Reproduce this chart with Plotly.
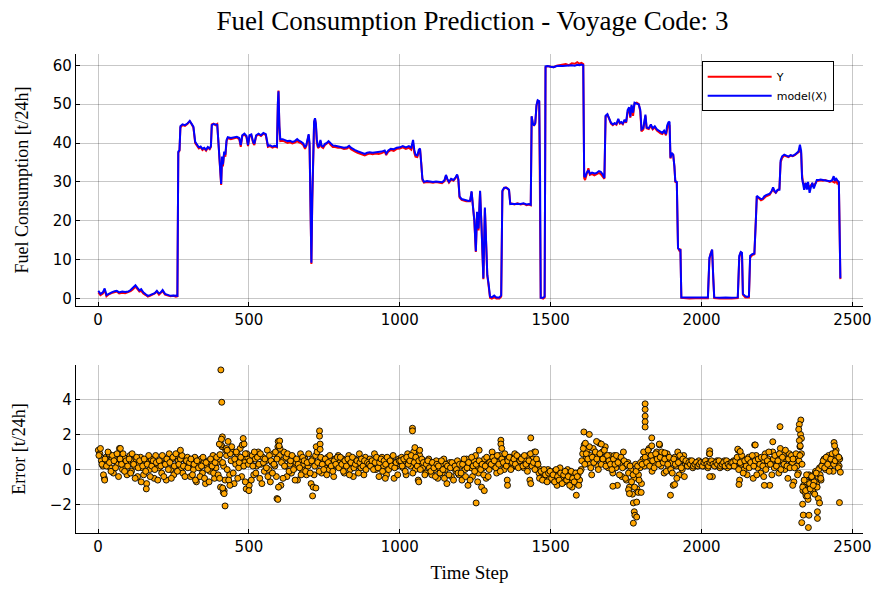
import plotly.graph_objects as go
from plotly.subplots import make_subplots

# ---- fuel consumption trace: (time step, measured Y, model(X)) ----
fc_steps = [1, 8, 16, 22, 28, 36, 45, 55, 62, 70, 80, 90, 100, 108, 116, 124, 130, 137, 143, 150,
            158, 165, 172, 180, 188, 195, 202, 208, 214, 222, 230, 240, 250, 258, 263, 266, 270, 273, 280, 288,
            296, 304, 310, 316, 322, 328, 334, 340, 346, 352, 358, 364, 370, 374, 377, 383, 389, 395, 399, 402,
            405, 408, 411, 414, 418, 422, 426, 430, 440, 450, 460, 468, 473, 478, 485, 492, 497, 502, 508, 514,
            518, 524, 532, 540, 548, 556, 563, 570, 578, 586, 593, 596, 598, 601, 604, 612, 620, 628, 636, 644,
            652, 660, 666, 672, 680, 686, 690, 695, 698, 701, 704, 707, 710, 713, 716, 719, 722, 725, 729, 733,
            737, 741, 746, 752, 758, 764, 770, 778, 786, 795, 805, 815, 825, 832, 838, 845, 852, 860, 868, 876,
            884, 892, 900, 910, 920, 930, 940, 950, 955, 962, 970, 980, 990, 1000, 1010, 1020, 1030, 1038, 1044, 1048,
            1052, 1058, 1063, 1067, 1071, 1075, 1080, 1090, 1100, 1110, 1120, 1130, 1140, 1148, 1153, 1158, 1163, 1170, 1178, 1185,
            1190, 1194, 1198, 1205, 1212, 1220, 1228, 1233, 1238, 1242, 1247, 1252, 1256, 1261, 1266, 1271, 1277, 1282, 1287, 1290,
            1294, 1299, 1305, 1313, 1320, 1330, 1336, 1340, 1346, 1352, 1358, 1362, 1366, 1372, 1380, 1390, 1400, 1410, 1420, 1428,
            1434, 1437, 1441, 1445, 1449, 1453, 1457, 1462, 1465, 1467, 1475, 1480, 1483, 1490, 1500, 1510, 1520, 1530, 1540, 1550,
            1560, 1570, 1580, 1588, 1595, 1602, 1608, 1611, 1614, 1619, 1625, 1630, 1637, 1645, 1652, 1660, 1666, 1672, 1678, 1682,
            1688, 1694, 1700, 1706, 1712, 1718, 1724, 1729, 1734, 1739, 1745, 1750, 1755, 1760, 1764, 1768, 1773, 1778, 1785, 1792,
            1797, 1801, 1807, 1814, 1818, 1825, 1832, 1838, 1845, 1852, 1858, 1864, 1870, 1876, 1882, 1886, 1890, 1894, 1897, 1901,
            1906, 1910, 1913, 1918, 1922, 1926, 1930, 1933, 1945, 1960, 1980, 2000, 2010, 2021, 2026, 2030, 2035, 2039, 2042, 2060,
            2080, 2100, 2120, 2125, 2130, 2134, 2137, 2145, 2152, 2157, 2161, 2168, 2175, 2180, 2183, 2190, 2197, 2203, 2208, 2214,
            2220, 2226, 2232, 2237, 2241, 2246, 2252, 2258, 2262, 2267, 2274, 2281, 2288, 2295, 2302, 2309, 2316, 2321, 2326, 2330,
            2333, 2336, 2340, 2345, 2349, 2353, 2358, 2362, 2367, 2372, 2377, 2382, 2388, 2395, 2402, 2410, 2418, 2425, 2432, 2438,
            2441, 2445, 2450, 2455, 2460]

y_true = [1.6, 0.9, 1.3, 2.2, 0.6, 1.1, 1.4, 1.7, 1.8, 1.3, 1.5, 1.4, 1.6, 1.9, 2.4, 3.1, 2.5, 1.8, 2.0, 1.3,
          0.9, 0.5, 0.7, 0.9, 1.3, 1.8, 1.0, 1.5, 1.9, 1.0, 0.8, 0.6, 0.7, 0.5, 0.6, 37.5, 38.0, 44.0, 44.6, 44.4,
          44.9, 45.6, 44.9, 44.0, 40.0, 39.2, 38.6, 38.9, 38.2, 38.6, 38.0, 38.8, 38.4, 39.0, 44.8, 45.0, 44.6, 44.9, 40.0, 35.0,
          30.0, 29.2, 36.0, 34.0, 37.5, 36.5, 40.5, 41.3, 41.0, 41.2, 41.4, 41.0, 39.0, 41.8, 42.2, 41.5, 39.2, 41.7, 42.0, 40.0,
          39.5, 41.8, 42.2, 41.8, 42.4, 42.0, 39.0, 39.2, 38.8, 39.1, 38.9, 50.0, 53.5, 44.0, 40.5, 40.6, 40.3, 40.0, 40.2, 39.9,
          40.1, 40.5, 40.2, 40.0, 39.5, 38.5, 39.2, 41.5, 42.0, 39.0, 20.0, 8.9, 25.0, 40.5, 45.0, 46.2, 44.5, 40.0, 38.7, 39.0,
          40.5, 39.0, 38.7, 39.5, 39.8, 40.2, 39.6, 39.0, 39.0, 38.8, 38.8, 38.5, 38.6, 39.0, 38.4, 38.0, 37.8, 37.5, 37.2, 36.9,
          36.8, 37.1, 37.3, 37.1, 37.3, 37.2, 37.4, 37.8, 36.9, 37.8, 38.2, 38.0, 38.5, 38.6, 38.9, 38.5, 38.8, 38.3, 40.0, 37.5,
          36.5, 36.4, 38.0, 38.5, 35.0, 30.5, 29.8, 30.0, 29.9, 29.8, 30.0, 29.8, 29.7, 30.2, 31.6, 30.5, 29.8, 30.6, 30.3, 31.0,
          31.7, 30.5, 26.0, 25.4, 25.2, 25.0, 25.0, 25.0, 27.4, 24.0, 20.0, 12.0, 22.0, 17.5, 27.5, 18.0, 5.0, 23.0, 10.0, 6.0,
          3.5, 0.2, 0.0, 0.3, 0.0, 0.0, 0.5, 27.5, 28.4, 28.6, 28.2, 27.8, 24.5, 24.4, 24.2, 24.5, 24.2, 24.4, 24.0, 24.2,
          24.0, 46.8, 45.0, 44.6, 45.0, 49.5, 50.8, 50.6, 30.0, 0.2, 0.0, 0.3, 59.5, 59.8, 59.6, 59.5, 59.9, 60.0, 60.1, 60.3,
          60.0, 60.5, 60.4, 60.8, 60.4, 60.6, 60.3, 31.0, 30.5, 32.0, 33.5, 31.8, 32.0, 31.7, 32.0, 32.3, 32.0, 31.5, 30.8, 46.8,
          47.3, 46.2, 45.0, 44.6, 45.0, 44.7, 46.0, 45.0, 45.2, 44.8, 45.8, 45.2, 47.8, 49.0, 46.5, 49.5, 47.0, 50.2, 50.4, 50.0,
          48.0, 43.0, 43.5, 47.0, 43.8, 43.6, 44.4, 43.5, 44.0, 43.2, 42.8, 42.5, 42.3, 43.0, 42.0, 44.0, 45.0, 44.5, 36.0, 37.2,
          37.0, 34.0, 30.0, 29.8, 13.0, 12.4, 12.8, 0.2, 0.1, 0.0, 0.1, 0.0, 0.1, 0.1, 10.0, 11.6, 12.5, 5.0, 0.1, 0.0,
          0.1, 0.0, 0.1, 10.5, 12.0, 11.5, 1.0, 0.3, 0.2, 0.3, 10.5, 11.2, 11.4, 20.0, 26.0, 25.8, 25.3, 25.5, 26.0, 26.3,
          26.5, 26.7, 27.5, 28.3, 27.5, 27.2, 27.8, 28.2, 35.0, 36.2, 36.8, 36.5, 36.4, 36.8, 36.6, 36.9, 37.2, 37.6, 38.0, 37.5,
          32.0, 29.8, 29.5, 29.0, 29.6, 29.0, 28.8, 29.2, 29.5, 29.0, 29.8, 30.2, 30.3, 30.4, 30.3, 30.5, 30.2, 30.0, 30.2, 30.0,
          29.8, 30.5, 29.6, 30.0, 5.0]

y_model = [2.0, 1.2, 1.6, 2.6, 0.9, 1.3, 1.6, 1.9, 2.0, 1.6, 1.8, 1.7, 1.8, 2.2, 2.8, 3.4, 2.8, 2.1, 2.4, 1.6,
           1.1, 0.7, 0.9, 1.1, 1.4, 2.0, 1.3, 1.6, 2.2, 1.2, 1.0, 0.7, 0.8, 0.7, 0.7, 37.8, 38.2, 44.3, 44.8, 44.6,
           45.0, 45.7, 45.0, 44.2, 40.3, 39.5, 38.9, 39.1, 38.5, 38.8, 38.3, 39.0, 38.6, 39.2, 44.6, 44.9, 44.7, 44.7, 40.2, 35.5,
           31.0, 29.5, 36.5, 34.5, 37.8, 37.0, 40.8, 41.5, 41.3, 41.5, 41.6, 41.3, 39.5, 42.0, 42.4, 41.8, 39.5, 42.0, 42.2, 40.3,
           39.8, 42.0, 42.4, 42.0, 42.6, 42.3, 39.3, 39.4, 39.1, 39.3, 39.1, 50.5, 53.3, 44.5, 41.0, 41.0, 40.7, 40.5, 40.6, 40.3,
           40.5, 41.0, 40.6, 40.4, 39.9, 38.9, 39.4, 41.9, 42.3, 40.0, 20.0, 9.2, 26.0, 41.0, 45.5, 46.4, 45.0, 41.0, 39.0, 39.3,
           40.8, 39.3, 39.1, 39.8, 40.0, 40.5, 40.0, 39.4, 39.3, 39.1, 39.0, 38.8, 38.9, 39.3, 38.8, 38.4, 38.2, 37.9, 37.6, 37.3,
           37.2, 37.5, 37.6, 37.5, 37.6, 37.6, 37.8, 38.1, 37.3, 38.1, 38.5, 38.4, 38.8, 38.9, 39.2, 38.9, 39.2, 38.8, 40.8, 38.3,
           37.0, 36.8, 38.3, 38.6, 35.2, 30.8, 30.0, 30.2, 30.1, 30.0, 30.1, 30.0, 29.9, 30.4, 31.8, 30.7, 30.0, 30.8, 30.5, 31.2,
           31.9, 30.8, 26.3, 25.6, 25.4, 25.2, 25.1, 25.2, 27.6, 24.0, 20.2, 12.2, 22.3, 18.0, 27.7, 18.3, 5.2, 23.4, 9.0, 6.0,
           4.0, 0.5, 0.3, 0.8, 0.3, 0.3, 0.8, 27.8, 28.5, 28.5, 28.3, 28.0, 24.3, 24.4, 24.3, 24.4, 24.3, 24.5, 24.2, 24.3,
           24.1, 46.9, 45.0, 44.5, 45.2, 49.8, 51.0, 50.8, 30.0, 0.2, 0.2, 0.5, 59.7, 59.8, 59.6, 59.5, 59.8, 59.9, 59.8, 59.9,
           59.9, 60.0, 59.9, 60.1, 60.0, 60.2, 60.0, 31.5, 31.2, 32.3, 33.0, 32.1, 32.4, 32.2, 32.3, 32.8, 32.6, 32.0, 31.0, 47.0,
           47.4, 46.5, 45.2, 44.8, 45.1, 44.9, 46.2, 45.2, 45.4, 45.0, 46.0, 45.4, 48.5, 49.2, 46.8, 49.8, 47.8, 50.4, 50.2, 49.9,
           48.5, 43.5, 43.8, 47.3, 44.0, 43.8, 44.8, 43.8, 44.3, 43.5, 43.2, 42.8, 42.6, 43.2, 42.3, 44.5, 45.3, 45.5, 36.2, 37.5,
           37.0, 34.0, 30.2, 30.0, 13.0, 12.6, 12.5, 0.3, 0.3, 0.2, 0.3, 0.2, 0.3, 0.3, 10.5, 11.8, 12.6, 5.0, 0.3, 0.2,
           0.3, 0.2, 0.3, 11.0, 12.0, 11.8, 1.2, 0.6, 0.4, 0.6, 11.0, 11.4, 11.6, 20.0, 26.4, 26.0, 25.6, 25.7, 26.3, 26.6,
           26.8, 27.0, 27.6, 28.6, 27.8, 27.3, 28.0, 28.0, 35.5, 36.6, 37.0, 36.7, 36.5, 36.9, 36.7, 37.0, 37.5, 37.8, 39.6, 38.0,
           31.0, 29.0, 28.0, 29.8, 28.0, 30.0, 27.2, 28.5, 29.8, 28.3, 29.5, 30.5, 30.5, 30.6, 30.5, 30.4, 30.3, 30.2, 30.4, 31.5,
           30.2, 31.0, 30.4, 30.0, 5.2]

# ---- prediction error, read every 5th time step (two interleaved passes) ----
err_steps_a = list(range(1, 2461, 5))
err_vals_a = [
    1.1, 0.9, 0.5, 0.2, -0.5, 0.7, 0.3, 0.9, 0.1, 0.6, -0.2, 0.8, 0.4, 0.3, 1.2, 0.5, 0.0, 0.7, 0.2, -0.3,
    0.4, 0.8, -0.1, 0.5, 0.2, 0.6, -0.4, 0.3, 0.7, 0.1, -0.3, 0.5, -0.8, 0.4, 0.0, 0.6, 0.2, -0.5, 0.8, 0.3,
    0.1, 0.5, -0.2, 0.7, 0.3, -0.6, 0.4, 0.9, 0.0, 0.6, -0.3, 0.2, 0.8, 0.5, 1.0, 0.1, -0.2, 0.6, 0.3, 0.7,
    0.2, -0.4, 0.5, 0.0, 0.7, -0.7, 0.3, 0.1, 0.6, -0.2, 0.4, -0.8, 0.2, 0.5, -0.1, 0.3, 0.8, -0.5, 0.1, 0.4,
    0.6, -1.0, 1.3, 0.2, -0.6, 0.8, 1.6, -0.3, 0.5, 1.0, -0.8, 0.3, 0.9, 0.1, 1.2, -0.4, 0.6, 0.4, -1.1, 0.7,
    -0.9, 0.4, 0.8, -0.3, 0.6, 0.2, 1.0, -0.5, 0.3, 0.7, -0.1, 0.5, 1.1, 0.0, -0.7, 0.4, 0.9, 0.2, -0.4, 1.3,
    0.8, -0.9, 0.5, 1.0, 0.2, -0.4, 0.6, 0.3, -0.2, 0.7, 0.1, 0.4, -0.6, 0.5, 0.9, 0.0, 0.3, 0.6, -0.3, 0.2,
    0.4, -0.8, 0.6, -0.3, 0.8, 1.0, 0.3, 0.5, -0.2, 0.6, 0.2, 0.4, 0.7, 0.0, 0.5, 0.3, -0.4, 0.6, 0.2, 0.8,
    0.4, 0.1, 0.6, -0.2, 0.5, 0.3, 0.8, 0.0, 0.4, -0.4, 0.6, 0.2, 0.5, 0.9, 0.1, 0.3, -0.3, 0.7, 0.2, 0.5,
    0.6, 0.2, 0.4, 0.9, 0.0, 0.5, -0.4, 0.3, 0.7, 0.2, 0.5, -0.3, 0.4, 0.1, 0.6, 0.3, -0.5, 0.4, 0.2, 0.6,
    0.3, 0.7, 0.1, 0.5, -0.3, 0.9, 0.4, 0.2, 0.6, 1.0, 0.0, 0.4, -0.6, 0.8, 0.3, 0.1, 0.5, -0.2, 0.3, 0.6,
    0.2, -0.3, 0.4, 0.0, 0.5, -0.5, 0.1, 0.3, -0.2, 0.6, 0.0, -0.8, 0.2, 0.4, -0.4, 0.1, 0.3, -0.1, 0.5, -0.3,
    0.2, -0.6, 0.4, 0.0, 0.6, -0.9, 0.3, 0.1, -0.4, 0.5, 0.8, 0.2, -0.2, 0.4, -1.0, 0.1, 0.6, -0.5, 0.3, 0.0,
    0.5, 1.0, 0.2, 0.7, -0.2, 0.4, 0.8, 0.3, 0.6, 0.0, 0.5, -0.6, 0.3, 0.7, 0.1, 0.4, 0.9, 0.2, 0.5, 0.3,
    0.4, 0.7, 0.1, 0.5, 0.2, 0.8, -0.6, 0.3, 0.6, 1.0, 0.2, 0.4, -0.2, 0.0, -0.4, -0.2, -0.6, -0.3, 0.0, -0.5,
    -0.2, -0.6, -0.1, -0.4, -0.9, -0.3, 0.1, -0.5, -0.2, -0.7, -0.4, 0.0, -0.6, -0.3, -1.0, -0.2, -0.5, -0.8, -0.3, -0.6,
    0.0, 0.9, 1.4, 0.6, 1.1, 0.3, 0.8, -0.3, 1.2, 0.5, 0.9, 0.2, 1.5, 0.7, 1.0, 0.4, 1.3, 0.6, 0.1, 0.8,
    0.5, -0.2, 0.8, 0.1, -0.9, 0.6, 0.3, -0.4, 1.0, 0.2, -0.6, 0.4, -1.0, 0.0, -1.4, -0.5, 0.3, -1.1, -0.3, 0.1,
    -0.8, 0.6, 0.2, 0.9, 0.4, 1.2, 0.5, -0.1, 0.8, 0.3, 1.0, 0.6, 1.4, 0.2, 0.7, -0.2, 0.5, 0.9, 0.1, 0.6,
    0.4, -0.9, 0.7, 0.2, 1.0, -0.3, 0.5, 0.0, 0.8, 0.3, 0.4, 0.2, 0.5, 0.3, 0.1, 0.4, 0.3, 0.2, 0.5, 0.3,
    0.4, 0.2, 0.3, 0.5, 0.1, 0.9, 0.3, -0.4, 0.4, 0.2, 0.5, 0.3, 0.1, 0.4, 0.2, 0.5, 0.3, 0.1, 0.4, 0.2,
    0.3, 0.5, 0.2, 0.4, 1.1, -0.6, 0.3, 0.6, 0.0, 0.5, -0.3, 0.7, 0.2, 0.4, -0.5, 1.4, 0.8, 0.1, 0.6, -0.2,
    0.5, -0.4, 0.9, 0.2, 0.6, -0.9, 0.4, 1.0, 0.1, 0.7, 0.3, -0.2, 1.2, 0.5, 0.8, 0.0, 0.6, -0.5, 0.9, 0.3,
    0.4, -0.7, 0.7, 0.2, -0.2, 1.3, 0.9, -1.2, -0.6, -1.5, -0.9, -0.3, -1.0, -0.5, -1.3, -0.2, -0.8, -0.4, 0.1, -0.6,
    0.3, 0.6, 0.0, 0.4, 0.8, 0.2, 0.5, -0.1, 0.7, 1.1, 0.4, 0.2,
]

err_steps_b = list(range(3, 2461, 5))
err_vals_b = [
    0.8, 1.2, 0.3, -0.3, 0.6, 0.2, 1.0, 0.4, -0.1, 0.8, 0.5, 0.1, 0.9, -0.4, 0.6, 0.3, 0.9, -0.1, 0.5, 0.2,
    0.6, -0.2, 0.9, 0.3, -0.5, 0.7, 0.1, 0.5, -0.7, 0.2, 0.6, -0.1, 0.3, 0.8, -0.4, 0.2, 0.5, 0.0, 0.4, -0.6,
    0.5, 0.2, 0.8, -0.4, 0.3, 0.6, 0.0, 0.4, -0.5, 0.7, 0.2, 0.9, -0.1, 0.3, 0.6, 0.8, 0.2, -0.4, 0.5, 0.1,
    0.4, 0.6, -0.3, 0.3, -0.6, 0.5, 0.1, -0.4, 0.2, 0.7, -0.5, 0.4, 0.0, -0.7, 0.6, 0.2, -0.2, 0.4, 0.7, -0.3,
    -0.5, 1.4, 0.4, -1.2, 1.1, 0.0, -0.6, 0.9, 1.3, -0.2, 0.6, 1.0, -0.5, 0.4, 0.7, 1.4, 0.2, -0.7, 0.9, 0.3,
    0.5, -0.6, 0.2, 1.0, -0.2, 0.7, 0.3, 0.9, -0.8, 0.4, 0.6, 0.1, -0.4, 0.8, 0.5, -0.2, 0.3, 1.0, 0.6, -1.0,
    1.2, 0.4, -0.5, 0.2, 0.7, 0.9, -0.1, 0.5, 0.8, 0.0, -0.6, 0.6, 0.3, 0.1, -0.3, 0.7, 0.5, -0.1, 0.4, 0.9,
    -0.2, 0.5, -1.0, 0.2, 1.3, 0.4, -0.1, 0.7, 0.3, 0.0, 0.6, -0.3, 0.4, 0.8, 0.2, -0.1, 0.5, 0.3, 0.7, 0.1,
    0.7, 0.3, -0.1, 0.5, 0.2, 0.6, -0.3, 0.4, 0.7, 0.1, 0.3, 0.5, -0.2, 0.4, 0.6, 0.2, 0.5, 0.0, 0.4, 0.3,
    0.2, 0.5, 0.0, 0.4, 0.7, 0.1, 0.4, 0.6, -0.1, 0.5, 0.3, 0.7, 0.0, 0.5, 0.2, 0.8, 0.1, 0.4, -0.3, 0.5,
    0.5, 0.2, 0.6, -0.1, 0.7, 0.3, 0.5, 0.8, -0.2, 0.4, 0.7, 0.2, 0.5, 0.0, 0.6, 0.4, -0.3, 0.3, 0.5, 0.1,
    -0.1, 0.4, 0.1, -0.4, 0.3, 0.2, -0.2, 0.5, 0.0, -0.5, 0.3, 0.2, -0.3, 0.1, 0.4, -0.6, 0.2, 0.0, -0.2, 0.3,
    -0.2, 0.3, 0.6, -0.4, 0.1, 0.4, -0.6, 0.7, 0.2, -0.1, 0.3, -0.7, 0.5, 0.0, 0.3, -0.3, 0.2, 0.7, -0.4, 0.4,
    0.3, 0.7, 0.5, 0.1, 0.8, 0.3, -0.1, 0.6, 0.4, 0.9, 0.2, 0.5, 0.7, 0.0, 0.4, 0.6, 0.3, 0.8, 0.1, 0.5,
    0.6, 0.2, 0.8, 0.3, -0.1, 0.5, 0.9, 0.2, 0.4, 0.0, 0.6, 0.3, -0.5, -0.1, -0.6, 0.0, -0.3, -0.7, -0.2, -0.1,
    -0.5, -0.3, -0.7, 0.0, -0.4, -0.6, -0.2, -0.8, -0.3, -0.1, -0.6, -0.4, -0.9, -0.1, -0.5, -0.7, -0.2, -0.4, -0.9, -0.1,
    0.5, 1.2, 0.3, 0.9, 0.6, 1.3, 0.1, 0.7, 0.4, 1.0, 0.6, 0.0, 0.9, 0.3, 0.6, 1.1, 0.2, 0.8, 0.5, 0.3,
    0.0, 0.6, 0.3, 0.8, 0.4, -0.3, 0.7, 0.1, 0.5, -0.5, 0.3, -0.2, 0.2, -0.7, -0.3, -1.0, -0.1, 0.2, -0.6, 0.4,
    0.3, 1.0, 0.7, 0.4, 1.1, 0.2, 0.8, 0.5, 0.1, 0.9, 0.6, 0.3, 0.7, 1.0, 0.4, 0.6, -0.1, 0.3, 0.7, 0.0,
    -0.2, 0.6, 0.3, -0.5, 0.4, 0.8, 0.1, 0.6, -0.4, 0.5, 0.2, 0.4, 0.3, 0.5, 0.2, 0.3, 0.4, 0.2, 0.3, 0.4,
    0.2, 0.4, 0.5, 0.3, 0.2, 0.4, 0.5, 0.3, 0.2, 0.4, 0.3, 0.5, 0.2, 0.3, 0.4, 0.2, 0.5, 0.3, 0.2, 0.4,
    0.4, 0.2, 0.5, 0.7, 0.0, 0.4, 0.8, -0.2, 0.5, 0.2, 0.6, 0.1, 0.4, 0.8, 0.2, 0.5, -0.3, 0.6, 0.3, 0.7,
    0.2, 0.7, 0.0, 0.5, 1.0, 0.3, -0.3, 0.6, 0.8, 0.2, 0.5, 0.9, 0.0, 0.7, 0.3, 1.1, 0.2, 0.6, 0.1, 0.8,
    0.6, 0.1, 0.9, -0.3, 0.5, 2.0, 0.3, -0.9, -1.3, -0.7, -1.7, -0.8, -0.4, -1.2, -0.7, -0.1, -1.0, 0.0, -0.3, 0.2,
    0.5, 0.1, 0.7, 0.3, -0.1, 0.6, 0.9, 0.3, 0.5, 0.8, 0.1, 0.6,
]

# larger deviations at individual time steps
peak_steps = [22, 74, 160, 273, 402, 404, 407, 410, 412, 409, 415, 418, 421, 413, 425, 428, 437, 481, 484, 488,
              500, 593, 597, 596, 602, 600, 711, 722, 734, 734, 736, 736, 952, 1042, 1042, 1050, 1066, 1063, 1253, 1263,
              1280, 1335, 1335, 1338, 1357, 1434, 1434, 1450, 1585, 1610, 1628, 1615, 1652, 1668, 1706, 1758, 1761, 1774, 1785, 1777,
              1779, 1774, 1785, 1790, 1800, 1813, 1813, 1813, 1813, 1813, 1835, 1835, 1860, 1878, 1897, 1911, 2027, 2027, 2027, 2120,
              2128, 2124, 2178, 2208, 2236, 2260, 2302, 2329, 2324, 2322, 2331, 2324, 2327, 2326, 2335, 2335, 2337, 2332, 2354, 2356,
              2351, 2384, 2384, 2387, 2391, 2439, 2441, 2444, 2455, 2457, 2460, 2340, 2345, 2348, 2360, 2365, 2370, 2375, 2380, 2395]
peak_vals = [-0.6, 1.2, -1.1, 1.1, 1.45, 0.85, 5.67, 3.83, 1.86, 1.73, -1.3, -1.37, -2.07, -1.05, 1.2, 1.1, -0.9, 1.77, 1.45, 0.9,
             -1.2, -1.65, 1.6, -1.7, 1.63, 1.35, -1.5, -1.05, 2.2, 1.9, 1.45, 1.15, -0.5, 2.35, 2.2, 1.25, 1.1, -0.7, -1.9, 1.1,
             -1.2, 1.67, 1.45, 1.2, -0.9, 1.8, -0.8, 1.0, -1.46, 2.14, 2.0, 1.5, 1.6, 1.45, -0.95, -1.15, -1.37, -1.9, -1.85, -2.4,
             -2.6, -3.05, -2.7, -1.3, -1.3, 3.74, 3.42, 3.04, 2.72, 2.42, 1.8, 1.35, 1.45, 0.95, -1.46, -0.85, 1.07, 0.9, -0.4, 1.16,
             1.03, -0.85, 1.4, -0.9, 1.58, 2.44, -0.9, 2.82, 2.57, 2.29, 1.77, 1.65, 1.35, 0.8, -1.0, -1.97, -2.59, -3.02, -3.3, -2.6,
             -1.5, -2.78, -2.4, -1.65, -1.9, 1.54, 1.35, 0.97, 0.7, -1.88, -0.15, -0.6, -1.2, -0.3, -1.1, -0.4, -0.9, -1.4, -0.2, -0.5]

x_ticks = [0, 500, 1000, 1500, 2000, 2500]
fc_ticks = [0, 10, 20, 30, 40, 50, 60]
err_ticks = [-2, 0, 2, 4]

SERIF = "Liberation Serif, DejaVu Serif, serif"
SANS = "DejaVu Sans, Liberation Sans, sans-serif"
GRID = "rgba(0,0,0,0.22)"

fig = make_subplots(rows=2, cols=1, vertical_spacing=0.124, row_heights=[0.6, 0.4])

fig.add_trace(go.Scatter(x=fc_steps, y=y_true, mode="lines", name="Y",
                         line=dict(color="#ff0000", width=2)), row=1, col=1)
fig.add_trace(go.Scatter(x=fc_steps, y=y_model, mode="lines", name="model(X)",
                         line=dict(color="#0000ff", width=2)), row=1, col=1)

all_err_x = err_steps_a + err_steps_b + peak_steps
all_err_y = err_vals_a + err_vals_b + peak_vals
fig.add_trace(go.Scatter(x=all_err_x, y=all_err_y, mode="markers", showlegend=False,
                         marker=dict(color="#ffa500", size=6,
                                     line=dict(color="#000000", width=0.9))), row=2, col=1)

axis_common = dict(showline=True, linecolor="black", linewidth=1.2, mirror=False,
                   showgrid=True, gridcolor=GRID, gridwidth=1, zeroline=False,
                   ticks="inside", ticklen=4, tickcolor="black",
                   tickfont=dict(family=SANS, size=15, color="black"))

fig.update_xaxes(**axis_common, range=[-73, 2535], tickvals=x_ticks)
fig.update_xaxes(title=dict(text="Time Step", font=dict(family=SERIF, size=19, color="black"),
                            standoff=10), row=2, col=1)
fig.update_yaxes(**axis_common)
fig.update_yaxes(range=[-1.85, 62.9], tickvals=fc_ticks,
                 title=dict(text="Fuel Consumption [t/24h]", font=dict(family=SERIF, size=18, color="black"),
                            standoff=19), row=1, col=1)
fig.update_yaxes(range=[-3.61, 5.94], tickvals=err_ticks,
                 title=dict(text="Error [t/24h]", font=dict(family=SERIF, size=18, color="black"),
                            standoff=19), row=2, col=1)

fig.update_layout(
    width=883, height=591,
    margin=dict(l=76, r=15, t=54, b=56),
    paper_bgcolor="white", plot_bgcolor="white",
    title=dict(text="Fuel Consumption Prediction - Voyage Code: 3", x=0.535, xanchor="center",
               y=0.965, yanchor="middle", font=dict(family=SERIF, size=27, color="black")),
    legend=dict(x=0.795, y=0.985, xanchor="left", yanchor="top",
                bordercolor="black", borderwidth=1, bgcolor="white",
                font=dict(family=SANS, size=11, color="black"),
                tracegroupgap=0, itemwidth=64),
    showlegend=True,
)

fig.write_html("out.html")
